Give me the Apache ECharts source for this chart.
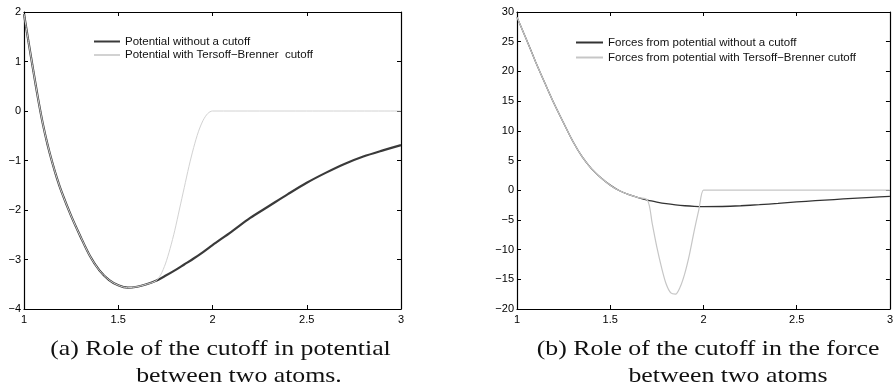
<!DOCTYPE html>
<html>
<head>
<meta charset="utf-8">
<script src="https://cdn.jsdelivr.net/npm/echarts@6/dist/echarts.min.js"></script>
<style>
  html, body { margin: 0; padding: 0; background: #fff; }
  #chart { width: 896px; height: 386px; }
</style>
</head>
<body>
<div id="chart"></div>
<script>
// Shared distance axis (Å)
const xTicks = [1, 1.5, 2, 2.5, 3];
const potentialTicks = [-4, -3, -2, -1, 0, 1, 2];
const forceTicks = [-20, -15, -10, -5, 0, 5, 10, 15, 20, 25, 30];

// Pair potential without a cutoff
const potentialPlainX = [1.000, 1.025, 1.050, 1.075, 1.100, 1.125, 1.150, 1.175, 1.200, 1.250, 1.300, 1.350,
  1.400, 1.450, 1.500, 1.550, 1.600, 1.650, 1.700, 1.750, 1.800, 1.850, 1.900, 1.950, 2.000,
  2.100, 2.200, 2.300, 2.400, 2.500, 2.600, 2.700, 2.800, 2.900, 3.000];
const potentialPlainY = [1.96, 1.37, 0.80, 0.24, -0.26, -0.68, -1.04, -1.36, -1.64, -2.12, -2.54, -2.93,
  -3.22, -3.41, -3.52, -3.57, -3.55, -3.50, -3.43, -3.33, -3.22, -3.10, -2.98, -2.85, -2.71,
  -2.44, -2.16, -1.92, -1.68, -1.45, -1.25, -1.07, -0.92, -0.80, -0.69];

// Pair potential with the Tersoff–Brenner cutoff
const potentialCutX = [1.000, 1.025, 1.050, 1.075, 1.100, 1.125, 1.150, 1.175, 1.200, 1.250, 1.300, 1.350,
  1.400, 1.450, 1.500, 1.550, 1.600, 1.650, 1.700, 1.725, 1.750, 1.775, 1.800, 1.825, 1.850,
  1.875, 1.900, 1.925, 1.950, 1.975, 2.000, 2.500, 3.000];
const potentialCutY = [1.96, 1.37, 0.80, 0.24, -0.26, -0.68, -1.04, -1.36, -1.64, -2.12, -2.54, -2.93,
  -3.22, -3.41, -3.52, -3.57, -3.55, -3.50, -3.43, -3.31, -3.09, -2.78, -2.41, -1.98, -1.55,
  -1.12, -0.74, -0.42, -0.19, -0.05, 0, 0, 0];

// Force without a cutoff
const forcePlainX = [1.00, 1.05, 1.10, 1.15, 1.20, 1.25, 1.30, 1.35, 1.40, 1.45, 1.50, 1.55, 1.60, 1.65,
  1.70, 1.75, 1.80, 1.85, 1.90, 1.95, 2.00, 2.10, 2.20, 2.30, 2.40, 2.50, 2.60, 2.70, 2.80, 2.90, 3.00];
const forcePlainY = [29.1, 25.4, 21.6, 18.0, 14.5, 11.3, 8.2, 5.6, 3.6, 2.1, 0.85, -0.1, -0.75, -1.25,
  -1.68, -2.0, -2.27, -2.47, -2.62, -2.72, -2.76, -2.74, -2.62, -2.44, -2.22, -1.98, -1.77, -1.57, -1.38, -1.21, -1.05];

// Force with the cutoff
const forceCutX = [1.00, 1.05, 1.10, 1.15, 1.20, 1.25, 1.30, 1.35, 1.40, 1.45, 1.50, 1.55, 1.60, 1.65,
  1.700, 1.725, 1.750, 1.775, 1.800, 1.825, 1.850, 1.875, 1.900, 1.925, 1.950, 1.975, 2.000, 2.025, 3.000];
const forceCutY = [29.1, 25.4, 21.6, 18.0, 14.5, 11.3, 8.2, 5.6, 3.6, 2.1, 0.85, -0.1, -0.75, -1.25,
  -1.68, -5.6, -9.6, -13.0, -15.8, -17.3, -17.5, -16.3, -14.0, -10.8, -6.9, -3.3, 0, 0, 0];

const names = {
  potPlain: 'Potential without a cutoff',
  potCut: 'Potential with Tersoff\u2212Brenner  cutoff',
  forPlain: 'Forces from potential without a cutoff',
  forCut: 'Forces from potential with Tersoff\u2212Brenner cutoff'
};

const captions = [
  { text: '(a) Role of the cutoff in potential', x: 220.5, y: 349 },
  { text: 'between two atoms.', x: 239, y: 376 },
  { text: '(b) Role of the cutoff in the force', x: 708, y: 349 },
  { text: 'between two atoms', x: 728, y: 376 }
];

const pairs = (xs, ys) => xs.map((x, i) => [x, ys[i]]);
const fmt = v => (v < 0 ? '\u2212' + Math.abs(v) : String(v));
const sans = 'Liberation Sans, Arial, Helvetica, sans-serif';
const serif = 'Liberation Serif, Times New Roman, serif';

function boxAxis(gridIndex, ticks, withLabels, position, labelMargin) {
  return {
    type: 'value',
    gridIndex: gridIndex,
    position: position,
    min: ticks[0],
    max: ticks[ticks.length - 1],
    interval: ticks[1] - ticks[0],
    axisLine: { show: true, onZero: false, lineStyle: { color: '#000', width: 1.2 } },
    axisTick: { show: true, inside: true, length: 4, lineStyle: { color: '#000', width: 1 } },
    axisLabel: {
      show: withLabels,
      margin: labelMargin,
      color: '#000',
      fontFamily: sans,
      fontSize: 11,
      formatter: fmt
    },
    splitLine: { show: false }
  };
}

function legendBlock(left, top, gap, width, data) {
  return {
    left: left, top: top, orient: 'vertical', padding: 0,
    itemWidth: width, itemHeight: 13, itemGap: gap,
    selectedMode: false,
    itemStyle: { opacity: 0 },
    textStyle: { fontFamily: sans, fontSize: 11.5, color: '#111', lineHeight: 13 },
    data: data
  };
}

const chart = echarts.init(document.getElementById('chart'), null, { renderer: 'canvas' });

const option = {
  backgroundColor: '#fff',
  animation: false,
  grid: [
    { left: 24, top: 12, width: 377, height: 297 },
    { left: 517, top: 12, width: 378, height: 297 }
  ],
  xAxis: [
    boxAxis(0, xTicks, true, 'bottom', 5),
    boxAxis(0, xTicks, false, 'top', 5),
    boxAxis(1, xTicks, true, 'bottom', 5),
    boxAxis(1, xTicks, false, 'top', 5)
  ],
  yAxis: [
    boxAxis(0, potentialTicks, true, 'left', 3),
    boxAxis(0, potentialTicks, false, 'right', 3),
    boxAxis(1, forceTicks, true, 'left', 3),
    boxAxis(1, forceTicks, false, 'right', 3)
  ],
  legend: [
    legendBlock(93, 35, 0.5, 26, [names.potPlain, names.potCut]),
    legendBlock(575, 36, 2, 27, [names.forPlain, names.forCut])
  ],
  series: [
    {
      name: names.potPlain, type: 'line', xAxisIndex: 0, yAxisIndex: 0,
      data: pairs(potentialPlainX, potentialPlainY),
      symbol: 'none', smooth: 0.3,
      lineStyle: { color: '#3a3a3a', width: 2.2 },
      itemStyle: { color: '#3a3a3a' }
    },
    {
      name: names.potCut, type: 'line', xAxisIndex: 0, yAxisIndex: 0,
      data: pairs(potentialCutX, potentialCutY),
      symbol: 'none', smooth: 0.3,
      lineStyle: { color: '#d2d2d2', width: 1 },
      itemStyle: { color: '#d2d2d2' }
    },
    {
      name: names.forPlain, type: 'line', xAxisIndex: 2, yAxisIndex: 2,
      data: pairs(forcePlainX, forcePlainY),
      symbol: 'none', smooth: 0.3,
      lineStyle: { color: '#333', width: 1.3 },
      itemStyle: { color: '#555' }
    },
    {
      name: names.forCut, type: 'line', xAxisIndex: 2, yAxisIndex: 2,
      data: pairs(forceCutX, forceCutY),
      symbol: 'none', smooth: 0.3,
      lineStyle: { color: '#c6c6c6', width: 1.2 },
      itemStyle: { color: '#c6c6c6' }
    }
  ],
  // Figure captions under each panel (serif, slightly widened like the typeset original)
  graphic: captions.map(c => ({
    type: 'text',
    x: c.x, y: c.y,
    scaleX: 1.2,
    style: { text: c.text, x: 0, y: 0, textAlign: 'center', textVerticalAlign: 'middle', font: '21.5px ' + serif, fill: '#111' }
  }))
};

chart.setOption(option);
</script>
</body>
</html>
